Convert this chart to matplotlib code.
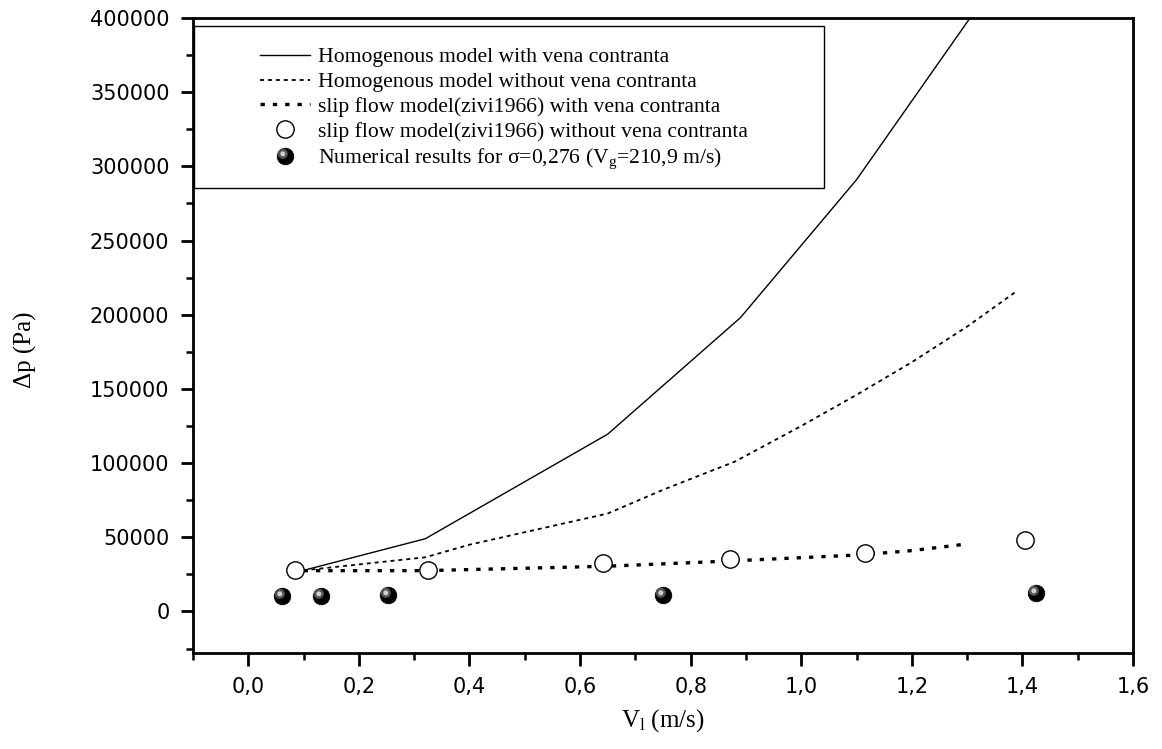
import numpy as np
import matplotlib
matplotlib.use("Agg")
import matplotlib.pyplot as plt
from matplotlib.path import Path
from matplotlib.patches import Rectangle
from matplotlib.legend_handler import HandlerTuple

plt.rcParams['mathtext.fontset'] = 'custom'
plt.rcParams['mathtext.rm'] = 'Liberation Serif'
plt.rcParams['mathtext.it'] = 'Liberation Serif:italic'

# Data
v_homog_vc = [0.1, 0.32, 0.65, 0.89, 1.1, 1.39]
dp_homog_vc = [27700, 49000, 119500, 198000, 291000, 445000]

v_homog = [0.1, 0.32, 0.4, 0.65, 0.75, 0.88, 1.0, 1.1, 1.2, 1.3, 1.39]
dp_homog = [27700, 36500, 45000, 66000, 82000, 101000, 125000, 146000, 168000, 192000, 216000]

v_slip_vc = [0.1, 0.32, 0.65, 0.87, 1.1, 1.2, 1.3]
dp_slip_vc = [27500, 27500, 30500, 34000, 38000, 41000, 45500]

v_slip = [0.085, 0.325, 0.642, 0.872, 1.115, 1.405]
dp_slip = [27700, 27700, 32400, 35500, 39200, 48000]

v_num = [0.061, 0.132, 0.253, 0.75, 1.425]
dp_num = [10100, 10100, 10800, 10800, 12500]

labels = [
    "Homogenous model with vena contranta",
    "Homogenous model without vena contranta",
    "slip flow model(zivi1966) with vena contranta",
    "slip flow model(zivi1966) without vena contranta",
    "Numerical results for \u03c3=0,276 (V$_{\\rm g}$=210,9 m/s)",
]

W, H = 1162, 749
fig = plt.figure(figsize=(W / 100, H / 100), dpi=100)
ax = fig.add_axes([193 / W, 1 - 653 / H, (1133 - 193) / W, (653 - 18) / H])

# highlight marker for the shaded spheres (small offset circle)
def shine(cx, cy, r):
    c = Path.circle((cx, cy), r)
    anchor = Path([(1.0, 1.0), (-1.0, -1.0)], [Path.MOVETO, Path.MOVETO])
    return Path.make_compound_path(c, anchor)

l1, = ax.plot(v_homog_vc, dp_homog_vc, color='black', lw=1.0)
l2, = ax.plot(v_homog, dp_homog, color='black', lw=1.3, linestyle=(0, (2.2, 2.2)))
l3, = ax.plot(v_slip_vc, dp_slip_vc, color='black', lw=2.4, linestyle=(0, (1.3, 2.4)))
l4, = ax.plot(v_slip, dp_slip, linestyle='none', marker='o', ms=12.5,
              mfc='white', mec='black', mew=1.0)
l5a, = ax.plot(v_num, dp_num, linestyle='none', marker='o', ms=12,
               mfc='black', mec='black', mew=0.5)
l5b, = ax.plot(v_num, dp_num, linestyle='none', marker=shine(-0.16, 0.16, 0.3), ms=24,
               mfc='#555555', mew=0)
l5c, = ax.plot(v_num, dp_num, linestyle='none', marker=shine(-0.16, 0.16, 0.15), ms=24,
               mfc='#cfcfcf', mew=0)

ax.set_xlim(-0.1, 1.6)
ax.set_ylim(-28000, 400000)
ax.set_xticks(np.arange(0, 1.61, 0.2))
ax.set_xticks(np.arange(-0.1, 1.61, 0.1), minor=True)
ax.set_yticks(np.arange(0, 400001, 50000))
ax.set_yticks(np.arange(-25000, 400001, 25000), minor=True)
ax.set_xticklabels([f"{t:.1f}".replace('.', ',') for t in np.arange(0, 1.61, 0.2)])
ax.set_yticklabels([f"{int(t)}" for t in np.arange(0, 400001, 50000)])

ax.tick_params(which='major', direction='out', length=9, width=2, labelsize=15,
               pad=8, top=False, right=False)
ax.tick_params(which='minor', direction='out', length=5, width=1.8, top=False, right=False)
for s in ax.spines.values():
    s.set_linewidth(2.0)

ax.set_xlabel("V$_{\\rm l}$ (m/s)", family='Liberation Serif', fontsize=18)
ax.set_ylabel("\u0394p (Pa)", family='Liberation Serif', fontsize=18)
ax.xaxis.set_label_coords(0.5, -0.085)
ax.yaxis.set_label_coords(-0.166, 0.477)

# legend box drawn as its own rectangle
fig.patches.append(Rectangle((194 / W, 1 - 188 / H), (824 - 194) / W, (188 - 26) / H,
                             transform=fig.transFigure, fill=False, lw=1.0,
                             edgecolor='black', zorder=5))
leg = ax.legend([l1, l2, l3, l4, (l5a, l5b, l5c)], labels,
                handler_map={tuple: HandlerTuple(ndivide=1)},
                loc='upper left', bbox_to_anchor=(260 / W, 1 - 47 / H),
                bbox_transform=fig.transFigure, frameon=False,
                prop={'family': 'Liberation Serif', 'size': 15.6},
                handlelength=2.3, handletextpad=0.4, labelspacing=0.22,
                borderpad=0, borderaxespad=0)

fig.savefig("out.png", dpi=100)
